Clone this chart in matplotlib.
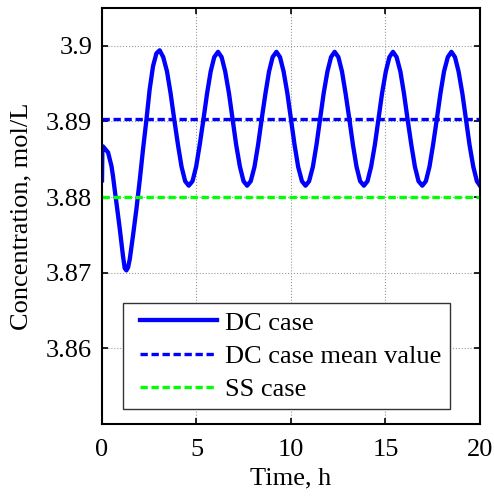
import numpy as np
import matplotlib
matplotlib.use("Agg")
from matplotlib import pyplot as plt
from matplotlib.legend_handler import HandlerLine2D

# Concentration response, DC case (time in h, concentration in mol/L)
dc_time = [0.00, 0.02, 0.05, 0.32, 0.50, 0.58, 0.67, 0.76, 0.94, 1.11, 1.20,
           1.29, 1.38, 1.47, 1.64, 1.82, 2.00, 2.17, 2.35, 2.52, 2.70, 2.88,
           3.05, 3.24, 3.44, 3.63, 3.82, 4.02, 4.21, 4.40, 4.59, 4.79, 4.98,
           5.17, 5.37, 5.56, 5.75, 5.94, 6.14, 6.33, 6.52, 6.72, 6.91, 7.10,
           7.30, 7.49, 7.68, 7.87, 8.07, 8.26, 8.45, 8.65, 8.84, 9.03, 9.23,
           9.42, 9.61, 9.81, 10.00, 10.19, 10.38, 10.58, 10.77, 10.96, 11.16,
           11.35, 11.54, 11.73, 11.93, 12.12, 12.31, 12.51, 12.70, 12.89,
           13.09, 13.28, 13.47, 13.66, 13.86, 14.05, 14.24, 14.44, 14.63,
           14.82, 15.02, 15.21, 15.40, 15.59, 15.79, 15.98, 16.17, 16.37,
           16.56, 16.75, 16.95, 17.14, 17.33, 17.52, 17.72, 17.91, 18.10,
           18.30, 18.49, 18.68, 18.87, 19.07, 19.26, 19.45, 19.65, 19.84,
           20.00]
dc_conc = [3.8822, 3.8866, 3.8867, 3.8859, 3.8841, 3.8828, 3.8810, 3.8793,
           3.8758, 3.8722, 3.8706, 3.8703, 3.8707, 3.8718, 3.8749, 3.8784,
           3.8823, 3.8863, 3.8902, 3.8942, 3.8973, 3.8990,
           3.8994, 3.8985, 3.8966, 3.8937, 3.8903, 3.8869, 3.8840, 3.8821,
           3.8815, 3.8821, 3.8840, 3.8869, 3.8903, 3.8937, 3.8966, 3.8985,
           3.8992, 3.8985, 3.8966, 3.8937, 3.8903, 3.8869, 3.8840, 3.8821,
           3.8815, 3.8821, 3.8840, 3.8869, 3.8903, 3.8937, 3.8966, 3.8985,
           3.8992, 3.8985, 3.8966, 3.8937, 3.8903, 3.8869, 3.8840, 3.8821,
           3.8815, 3.8821, 3.8840, 3.8869, 3.8903, 3.8937, 3.8966, 3.8985,
           3.8992, 3.8985, 3.8966, 3.8937, 3.8903, 3.8869, 3.8840, 3.8821,
           3.8815, 3.8821, 3.8840, 3.8869, 3.8903, 3.8937, 3.8966, 3.8985,
           3.8992, 3.8985, 3.8966, 3.8937, 3.8903, 3.8869, 3.8840, 3.8821,
           3.8815, 3.8821, 3.8840, 3.8869, 3.8903, 3.8937, 3.8966, 3.8985,
           3.8992, 3.8985, 3.8966, 3.8937, 3.8903, 3.8869, 3.8840, 3.8821,
           3.8815]

dc_mean = 3.8903   # DC case mean value
ss_level = 3.8800  # SS case

x_ticks = [0, 5, 10, 15, 20]
y_ticks = [3.86, 3.87, 3.88, 3.89, 3.90]
y_tick_labels = ["3.86", "3.87", "3.88", "3.89", "3.9"]


class InsetLine(HandlerLine2D):
    """Legend line that starts a bit inside its handle box."""
    def get_xdata(self, legend, xdescent, ydescent, width, height, fontsize):
        xd, xm = super().get_xdata(legend, xdescent, ydescent, width, height, fontsize)
        xd = np.asarray(xd, dtype=float).copy()
        xd[0] += 0.34 * fontsize
        return xd, xm


plt.rcParams["font.family"] = ["Liberation Serif", "DejaVu Serif"]
plt.rcParams["font.size"] = 19

fig = plt.figure(figsize=(4.94, 4.97), dpi=100)
ax = fig.add_axes([0.2065, 0.147, 0.765, 0.837])

ax.plot(dc_time, dc_conc, "-", color="#0000ff", linewidth=3.1,
        solid_joinstyle="round", label="DC case")
ax.plot([0, 20], [dc_mean, dc_mean], "--", color="#0000ff", linewidth=2.4,
        dashes=(2.2, 1.1), label="DC case mean value")
ax.plot([0, 20], [ss_level, ss_level], "--", color="#00ff00", linewidth=2.4,
        dashes=(2.2, 1.1), label="SS case")

ax.set_xlim(0, 20)
ax.set_ylim(3.85, 3.905)
ax.set_xticks(x_ticks)
ax.set_yticks(y_ticks)
ax.set_yticklabels(y_tick_labels)

ax.grid(True, linestyle=":", color="#999999", linewidth=0.8)
ax.tick_params(direction="in", top=True, right=True, length=4, width=1.2)
ax.tick_params(axis="x", pad=11)
ax.tick_params(axis="y", pad=7)
for s in ax.spines.values():
    s.set_linewidth(1.5)

ax.set_xlabel("Time, h")
ax.set_ylabel("Concentration, mol/L")
ax.xaxis.set_label_coords(0.5, -0.105)
ax.yaxis.set_label_coords(-0.183, 0.5)

leg = ax.legend(loc="lower left", bbox_to_anchor=(0.056, 0.035),
                borderaxespad=0, fancybox=False, framealpha=1,
                handlelength=3.25, handletextpad=0.31, borderpad=0.31,
                labelspacing=0.37, handler_map={plt.Line2D: InsetLine()})
leg.get_frame().set_edgecolor("#333333")
leg.get_frame().set_linewidth(1.0)

fig.savefig("out.png", dpi=100)
